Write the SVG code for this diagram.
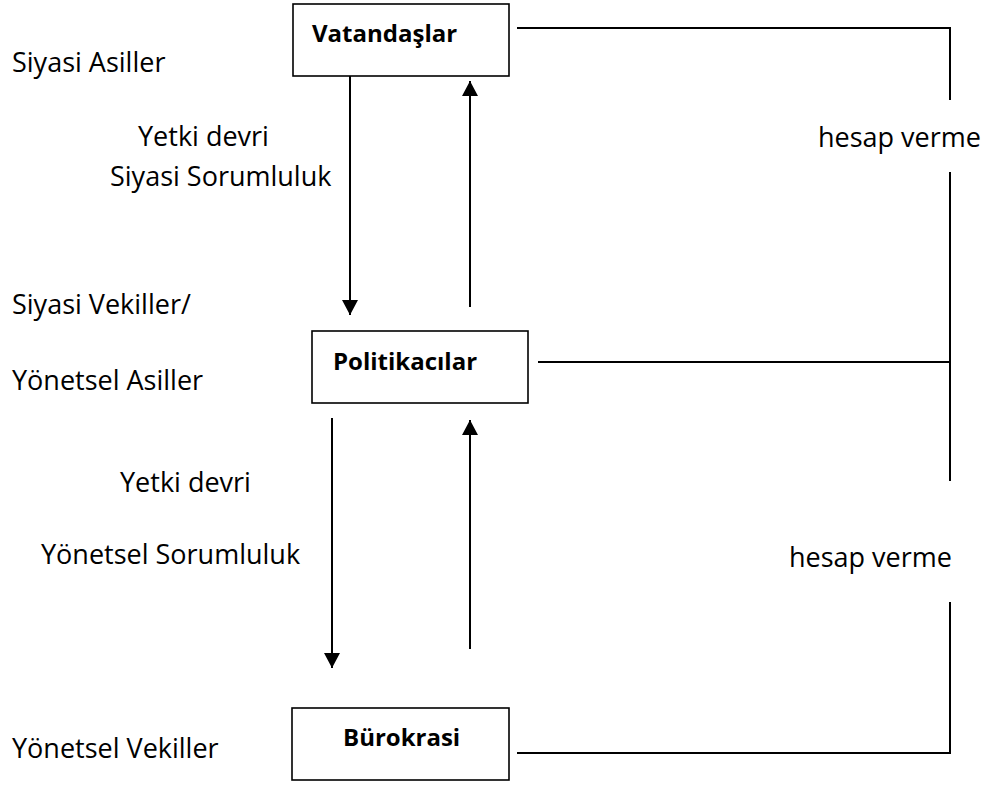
<svg xmlns="http://www.w3.org/2000/svg" width="995" height="785" viewBox="0 0 995 785">
<style>
  .box { fill: #ffffff; stroke: #000000; stroke-width: 1.6; }
  .lbl { font-family: "Open Sans", "Noto Sans", sans-serif; font-size: 27px; fill: #000000; }
  .blbl { font-family: "Open Sans", "Noto Sans", sans-serif; font-size: 24px; font-weight: bold; fill: #000000; }
  .ln { fill: none; stroke: #000000; stroke-width: 2; }
  .arr { fill: none; stroke: #000000; stroke-width: 2; marker-end: url(#ah); }
</style>
<defs>
  <marker id="ah" markerUnits="userSpaceOnUse" markerWidth="16" markerHeight="16" viewBox="0 0 16 16" refX="15" refY="8" orient="auto">
    <path d="M0,0 L15,8 L0,16 Z" fill="#000000"/>
  </marker>
</defs>
<rect width="995" height="785" fill="#ffffff"/>

<g id="connectors">
  <path class="arr" d="M350,66 V315"/>
  <path class="arr" d="M470,307 V81"/>
  <path class="arr" d="M332,418 V668"/>
  <path class="arr" d="M470,649 V420"/>
  <path class="ln" d="M517,28 H950 V100"/>
  <path class="ln" d="M950,172 V481"/>
  <path class="ln" d="M538,362 H950"/>
  <path class="ln" d="M950,602 V753 H517"/>
</g>

<g id="node-vatandaslar">
  <rect class="box" x="293" y="4" width="216" height="72"/>
  <text class="blbl" x="312" y="42">Vatandaşlar</text>
</g>
<g id="node-politikacilar">
  <rect class="box" x="312" y="331" width="216" height="72"/>
  <text class="blbl" x="333" y="370">Politikacılar</text>
</g>
<g id="node-burokrasi">
  <rect class="box" x="292" y="708" width="217" height="72"/>
  <text class="blbl" x="343" y="746">Bürokrasi</text>
</g>

<g id="labels">
  <text class="lbl" x="12" y="72">Siyasi Asiller</text>
  <text class="lbl" x="138" y="146">Yetki devri</text>
  <text class="lbl" x="110" y="186">Siyasi Sorumluluk</text>
  <text class="lbl" x="12" y="314">Siyasi Vekiller/</text>
  <text class="lbl" x="12" y="390">Yönetsel Asiller</text>
  <text class="lbl" x="120" y="492">Yetki devri</text>
  <text class="lbl" x="41" y="564">Yönetsel Sorumluluk</text>
  <text class="lbl" x="12" y="758">Yönetsel Vekiller</text>
  <text class="lbl" x="818" y="147">hesap verme</text>
  <text class="lbl" x="789" y="567">hesap verme</text>
</g>
</svg>
